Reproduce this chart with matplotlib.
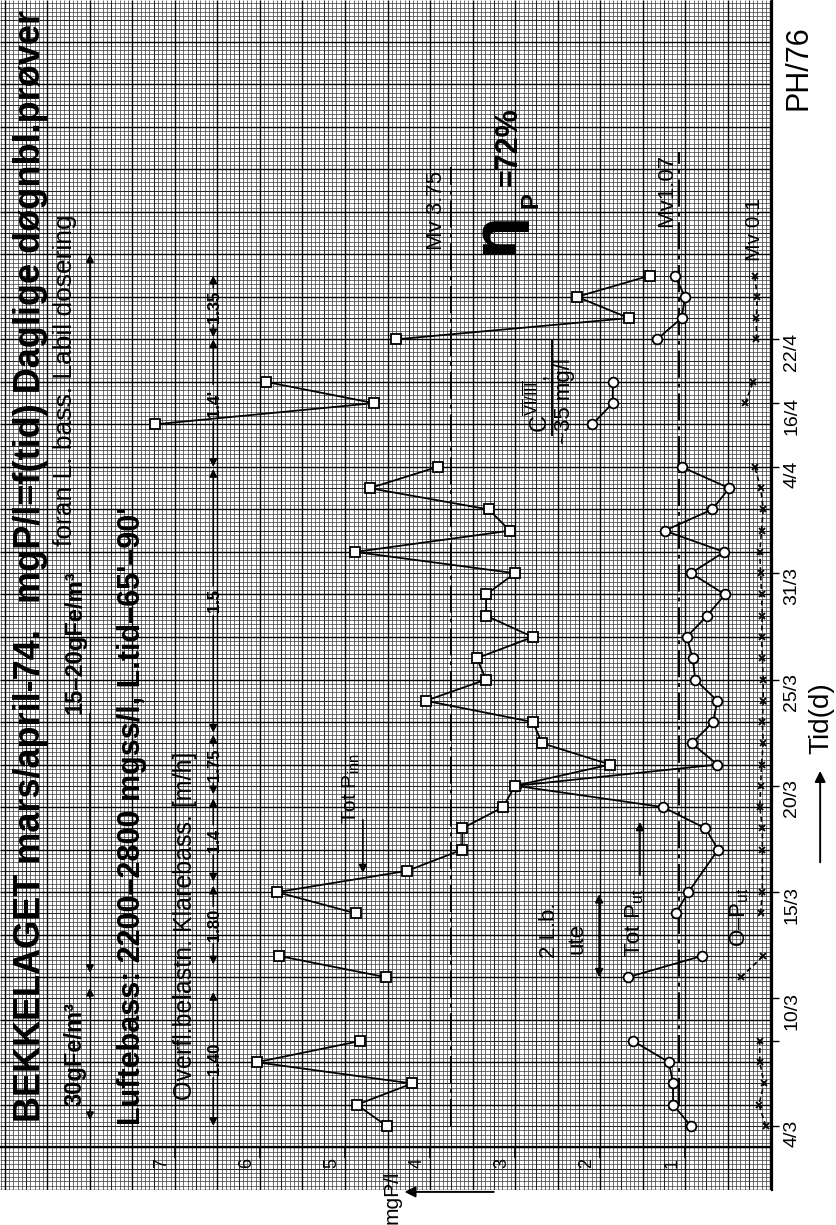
import matplotlib
matplotlib.use('Agg')
import matplotlib.pyplot as plt
from matplotlib import font_manager
import numpy as np

nan = float('nan')

# sample index (one per daily sample), 0 = 4/3
days = list(range(41))
tot_p_inn = [4.51, 4.86, 4.21, 6.04, 4.82, nan, nan, 4.52, 5.78, nan,
             4.87, 5.80, 4.27, 3.62, 3.62, 3.14, 3.00, 1.88, 2.68, 2.79,
             4.05, 3.34, 3.45, 2.79, 3.34, 3.34, 3.00, 4.88, 3.06, 3.31,
             4.71, 3.91, nan, 7.24, 4.66, 5.93, nan, 4.40, 1.66, 2.27, 1.41]

ut_days = [0, 1, 2, 3, 4, 5, 7, 8, 9, 10, 11, 13, 14, 15, 16, 17, 18, 19, 20,
           21, 22, 23, 24, 25, 26, 27, 28, 29, 30, 31, 32, 33, 34, 35, 36,
           37, 38, 39, 40]
tot_p_ut = [0.93, 1.14, 1.14, 1.19, 1.61, nan, 1.67, 0.80, nan, 1.11, 0.96,
            0.61, 0.76, 1.26, 2.99, 0.62, 0.92, 0.67, 0.62, 0.88, 0.91, 0.98,
            0.74, 0.53, 0.93, 0.54, 1.24, 0.68, 0.48, 1.04, nan, 2.09, 1.85,
            1.85, nan, 1.33, 1.04, 1.00, 1.12]

op_days = [0, 1, 2, 3, 4, 5, 7, 8, 9, 10, 11, 13, 14, 15, 16, 17, 18, 19, 20,
           21, 22, 23, 24, 25, 26, 27, 28, 29, 30, 31, 32, 34, 35, 36,
           37, 38, 39, 40]
o_p_ut = [0.05, 0.13, 0.07, 0.12, 0.12, nan, 0.34, 0.08, nan, 0.11, 0.09,
          0.09, 0.09, 0.12, 0.11, 0.10, 0.08, 0.09, 0.08, 0.08, 0.09, 0.10,
          0.09, 0.10, 0.11, 0.12, 0.10, 0.08, 0.11, 0.18, nan, 0.29, 0.20,
          nan, 0.16, 0.16, 0.15, 0.18]

mv_inn = 3.75
mv_ut = 1.07

value_ticks = [1, 2, 3, 4, 5, 6, 7]
date_pos = [0, 4, 6, 11, 16, 21, 26, 31, 34, 37]
date_labels = ['4/3', '', '10/3', '15/3', '20/3', '25/3', '31/3', '4/4', '16/4', '22/4']

# overflow rate clarifier [m/h]: (from, to, label)
overfl = [(0.0, 6.3, '1.40'), (7.6, 11.3, '1.80'), (11.5, 15.4, '1.4'),
          (15.6, 18.4, '1.75'), (18.5, 30.9, '1.5'), (31.0, 37.0, "1.4'"),
          (37.1, 40.0, '1.35')]
# iron dosing: (from, to, label)
fe_dose = [(0.28, 6.5, '30gFe/m³'), (7.2, 41.0, '15–20gFe/m³')]

avail = {f.name for f in font_manager.fontManager.ttflist}
NARROW = 'Liberation Sans Narrow' if 'Liberation Sans Narrow' in avail else 'Liberation Sans'
plt.rcParams['font.family'] = ['Liberation Sans', 'DejaVu Sans']
plt.rcParams['mathtext.fontset'] = 'custom'
plt.rcParams['mathtext.rm'] = 'Liberation Sans'
plt.rcParams['mathtext.it'] = 'Liberation Sans:italic'
plt.rcParams['mathtext.bf'] = 'Liberation Sans:bold'

fig = plt.figure(figsize=(8.36, 12.25), dpi=100)
ax = fig.add_axes([0, 35 / 1225, 772 / 836, 1190 / 1225])
V_LO, V_HI = -0.0235, 9.0588
U_LO, U_HI = -3.01, 52.96
ax.set_xlim(V_HI, V_LO)
ax.set_ylim(U_LO, U_HI)

# graph paper
kv = np.arange(0, 182)
gv = kv * 0.05
ku = np.arange(-10, 270)
gu = -1 + ku * 0.2
ax.vlines(gv[kv % 5 != 0], U_LO, U_HI, colors='0.22', lw=0.5, zorder=0)
ax.hlines(gu[ku % 5 != 0], V_LO, V_HI, colors='0.22', lw=0.5, zorder=0)
ax.vlines(gv[(kv % 5 == 0) & (kv % 10 != 0)], U_LO, U_HI, colors='0.15', lw=0.75, zorder=0)
ax.hlines(gu[(ku % 5 == 0) & (ku % 10 != 0)], V_LO, V_HI, colors='0.15', lw=0.75, zorder=0)
ax.vlines(gv[kv % 10 == 0], U_LO, U_HI, colors='0.0', lw=1.0, zorder=0)
ax.hlines(gu[ku % 10 == 0], V_LO, V_HI, colors='0.0', lw=1.0, zorder=0)

# axes
for s in ['top', 'left', 'bottom']:
    ax.spines[s].set_visible(False)
ax.spines['right'].set_linewidth(1.6)
ax.axhline(-1, color='k', lw=1.6, zorder=1)
ax.vlines(value_ticks, -1.5, -1, colors='k', lw=1.2)
ax.set_xticks([])
ax.yaxis.tick_right()
ax.set_yticks(date_pos, date_labels)
ax.tick_params(axis='y', labelrotation=90, labelsize=16 if NARROW != 'Liberation Sans' else 14,
               length=5, width=1, pad=3, direction='out')
for lbl in ax.get_yticklabels():
    lbl.set_family(NARROW)


def rtext(v, u, s, size, weight='normal', ha='left', family=None, **kw):
    return ax.text(v, u, s, rotation=90, rotation_mode='anchor', ha=ha, va='baseline',
                   fontsize=size, fontweight=weight, family=family or 'Liberation Sans',
                   clip_on=False, **kw)


def arrow(v, u0, u1, style='-|>', lw=1.0, ms=10):
    ax.annotate('', xy=(v, u1), xytext=(v, u0), annotation_clip=False,
                arrowprops=dict(arrowstyle=style, color='k', lw=lw, mutation_scale=ms,
                                shrinkA=0, shrinkB=0))


def segment(v, u0, u1, label, size, half, base_dv, at=0.5):
    mid = u0 + at * (u1 - u0)
    arrow(v, mid - half, u0, lw=1.2, ms=11)
    arrow(v, mid + half, u1, lw=1.2, ms=11)
    rtext(v + base_dv, mid, label, size, 'bold', ha='center', family=NARROW)


# series (value on the horizontal, time on the vertical)
ax.plot(tot_p_ut, ut_days, color='k', lw=1.3, marker='o', ms=7, mfc='white', mec='k',
        mew=1.3, zorder=3)
ax.plot(tot_p_inn, days, color='k', lw=1.3, marker='s', ms=6.5, mfc='white', mec='k',
        mew=1.3, zorder=4)
ax.plot(o_p_ut, op_days, color='k', lw=1.2, ls=(0, (3, 2)), marker='x', ms=4, mew=1.3,
        zorder=3)

# mean lines
ax.plot([mv_inn, mv_inn], [0, 45.1], color='k', lw=1.4, ls=(0, (14, 3, 2, 3)), zorder=2)
ax.plot([mv_ut, mv_ut], [1.0, 45.8], color='k', lw=1.4, ls=(0, (14, 3, 2, 3)), zorder=2)
rtext(3.86, 41.2, 'Mv 3.75', 16)
rtext(1.15, 42.3, 'Mv1.07', 16)
rtext(0.12, 40.7, 'Mv 0.1', 15)

# titles and notes
rtext(8.59, 0.2, 'BEKKELAGET mars/april-74.', 26, 'bold')
rtext(8.59, 24.6, 'mgP/l=f(tid) Daglige døgnbl.prøver', 26, 'bold')
rtext(7.41, 0.05, "Luftebass: 2200–2800 mgss/l, L.tid–65'–90'", 22, 'bold')
rtext(6.80, 1.2, 'Overfl.belastn. Klarebass. [m/h]', 18)
rtext(8.21, 27.3, 'foran L. bass. Labil dosering', 19)

fe_v = 8.0
segment(fe_v, *fe_dose[0], 17, 0.25 * len(fe_dose[0][2]) + 0.6, 0.1)
segment(fe_v, *fe_dose[1], 17, 0.25 * len(fe_dose[1][2]) + 0.6, 0.1, at=0.46)
for (a, b, lab) in overfl:
    segment(6.55, a, b, lab, 12, 0.17 * len(lab) + 0.2, -0.07)

rtext(4.86, 14.2, r'Tot P$_{\mathrm{inn}}$', 15)
arrow(4.79, 14.4, 11.9, lw=1.2, ms=12)
rtext(2.53, 7.9, '2 L.b.', 16)
rtext(2.21, 8.1, 'ute', 16)
arrow(2.01, 8.9, 7.0, lw=1.2, ms=12)
arrow(2.01, 8.9, 10.9, lw=1.2, ms=12)
rtext(1.53, 7.95, r'Tot P$_{\mathrm{ut}}$', 16)
arrow(1.53, 11.8, 14.3, lw=1.2, ms=12)
rtext(0.29, 8.4, r'O–P$_{\mathrm{ut}}$', 16)

rtext(2.61, 32.6, r'C$^{\overline{\mathrm{VI}}/\overline{\mathrm{III}}}$,', 17)
ax.plot([2.56, 2.56], [32.5, 36.9], color='k', lw=1.4)
rtext(2.35, 32.1, '~35 mg/l', 16)

rtext(3.04, 41.0, 'η', 44, 'bold', family='DejaVu Sans')
rtext(2.74, 43.2, 'P', 17, 'bold')
rtext(2.98, 44.2, '=72%', 22, 'bold')

# value tick labels
for k in value_ticks:
    rtext(k + 0.1, -1.75, str(k), 13, ha='center', family=NARROW)

rtext(-0.435, 47.8, 'PH/76', 22)
rtext(-0.69, 17.5, 'Tid(d)', 20)
arrow(-0.59, 12.4, 16.7, lw=1.4, ms=16)
rtext(4.38, -4.6, 'mgP/l', 15)
ax.annotate('', xy=(4.3, -3.1), xytext=(3.25, -3.1), annotation_clip=False,
            arrowprops=dict(arrowstyle='-|>', color='k', lw=1.4, mutation_scale=16,
                            shrinkA=0, shrinkB=0))

fig.savefig('out.png', dpi=100)
